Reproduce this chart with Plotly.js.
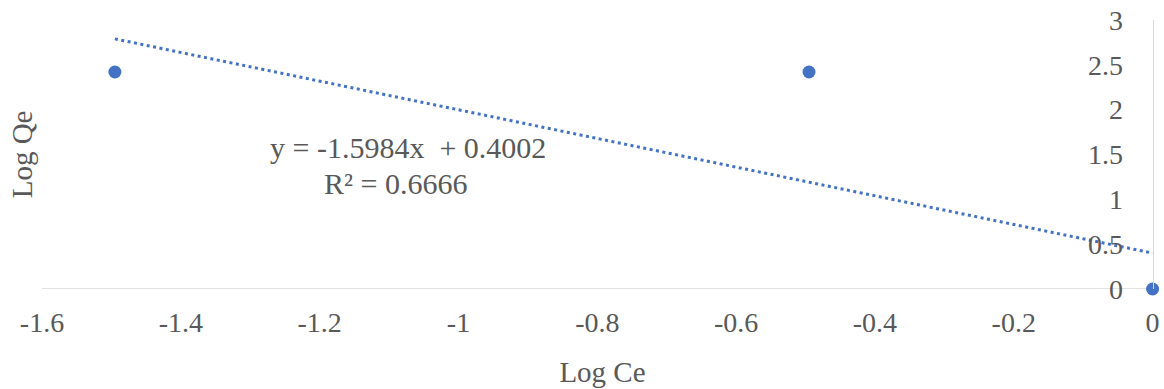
<!DOCTYPE html>
<html>
<head>
<meta charset="utf-8">
<script src="https://cdn.plot.ly/plotly-3.0.1.min.js"></script>
<style>
  html, body { margin: 0; padding: 0; background: #fff; }
  #chart { width: 1164px; height: 389px; }
</style>
</head>
<body>
<div id="chart"></div>
<script>
// Data
const logCe = [-1.495, -0.495, 0];
const logQe = [2.42, 2.42, 0];

// Linear trendline as displayed on the chart
const trendSlope = -1.5984;
const trendIntercept = 0.4002;
const rSquared = 0.6666;
const trendX = [logCe[0], 0];
const trendY = trendX.map(x => trendSlope * x + trendIntercept);

const xTicks = [-1.6, -1.4, -1.2, -1, -0.8, -0.6, -0.4, -0.2, 0];
const xTickText = ['-1.6', '-1.4', '-1.2', '-1', '-0.8', '-0.6', '-0.4', '-0.2', '0'];
const yTicks = [0, 0.5, 1, 1.5, 2, 2.5, 3];
const yTickText = ['0', '0.5', '1', '1.5', '2', '2.5', '3'];

const xTitle = 'Log Ce';
const yTitle = 'Log Qe';
const eqText = 'y = -1.5984x  + 0.4002';
const r2Text = 'R² = ' + rSquared.toFixed(4);

const blue = '#4472C4';
const textGray = '#595959';
const axisGray = '#D9D9D9';
const serif = '"Liberation Serif", "Times New Roman", serif';

const xMin = -1.6, xMax = 0, xPad = 0.015;

const traces = [
  {
    x: trendX, y: trendY,
    type: 'scatter', mode: 'lines',
    line: { color: blue, width: 3, dash: '3px,3.5px' },
    hoverinfo: 'skip', showlegend: false, cliponaxis: false
  },
  {
    x: logCe, y: logQe,
    type: 'scatter', mode: 'markers',
    marker: { color: blue, size: 13 },
    showlegend: false, cliponaxis: false
  }
];

const layout = {
  width: 1164, height: 389,
  margin: { l: 42, r: 1, t: 20, b: 100, pad: 0 },
  paper_bgcolor: '#ffffff', plot_bgcolor: '#ffffff',
  showlegend: false,
  font: { family: serif, color: textGray, size: 28 },
  xaxis: {
    range: [xMin, xMax + xPad],
    tickvals: xTicks, ticktext: xTickText,
    showgrid: false, zeroline: false, showline: false,
    ticks: '', ticklabelstandoff: 14,
    tickfont: { family: serif, color: textGray, size: 28 },
    title: { text: xTitle, font: { family: serif, color: textGray, size: 29 }, standoff: 24 }
  },
  yaxis: {
    range: [0, 3],
    anchor: 'free', position: (xMax - xMin) / (xMax + xPad - xMin), side: 'left',
    tickvals: yTicks, ticktext: yTickText,
    showgrid: false, zeroline: false,
    showline: true, linecolor: axisGray, linewidth: 1.5,
    ticks: '', ticklabelstandoff: 24,
    tickfont: { family: serif, color: textGray, size: 28 }
  },
  shapes: [
    {
      type: 'line', xref: 'x', yref: 'y',
      x0: xMin, x1: xMax, y0: 0, y1: 0,
      line: { color: axisGray, width: 1.5 }, layer: 'below'
    }
  ],
  annotations: [
    {
      text: yTitle, textangle: -90,
      xref: 'paper', yref: 'paper',
      x: -0.018, y: 0.5, xanchor: 'center', yanchor: 'middle',
      showarrow: false,
      font: { family: serif, color: textGray, size: 29 }
    },
    {
      text: eqText, xref: 'x', yref: 'y',
      x: -1.0724, y: 1.575, xanchor: 'center', yanchor: 'middle',
      showarrow: false,
      font: { family: serif, color: textGray, size: 30 }
    },
    {
      text: r2Text, xref: 'x', yref: 'y',
      x: -1.091, y: 1.175, xanchor: 'center', yanchor: 'middle',
      showarrow: false,
      font: { family: serif, color: textGray, size: 30 }
    }
  ]
};

Plotly.newPlot('chart', traces, layout, { displayModeBar: false, staticPlot: true });
</script>
</body>
</html>
